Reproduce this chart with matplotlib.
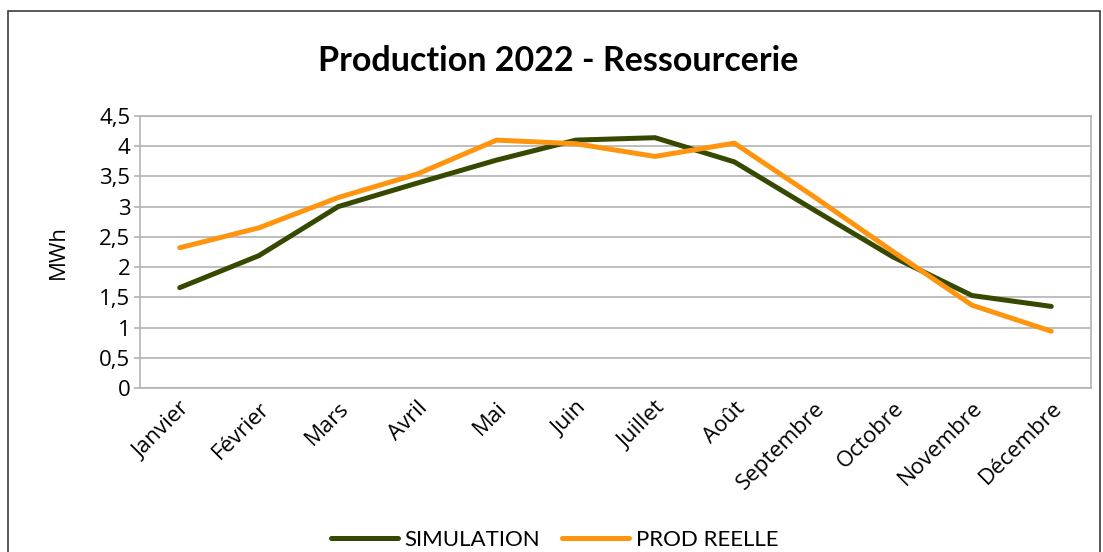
import matplotlib
matplotlib.use('Agg')
import matplotlib.pyplot as plt
from matplotlib.patches import Rectangle
from matplotlib.ticker import FuncFormatter

# monthly production, MWh
mois = ['Janvier', 'Février', 'Mars', 'Avril', 'Mai', 'Juin', 'Juillet',
        'Août', 'Septembre', 'Octobre', 'Novembre', 'Décembre']
simulation = [1.66, 2.19, 3.0, 3.39, 3.77, 4.1, 4.14, 3.74, 2.95, 2.17, 1.53, 1.35]
prod_reelle = [2.32, 2.65, 3.15, 3.54, 4.1, 4.04, 3.83, 4.05, 3.17, 2.26, 1.37, 0.94]

fig = plt.figure(figsize=(11.03, 5.52), dpi=100)
ax = fig.add_axes([0.127, 0.297, 0.862, 0.493])

x = list(range(len(mois)))
ax.plot(x, simulation, color='#354a00', lw=3.6, label='SIMULATION',
        solid_capstyle='round', solid_joinstyle='round')
ax.plot(x, prod_reelle, color='#ff950e', lw=3.6, label='PROD REELLE',
        solid_capstyle='round', solid_joinstyle='round')

ax.set_xlim(-0.5, len(mois) - 0.5)
ax.set_ylim(0, 4.5)
ax.set_yticks([i * 0.5 for i in range(10)])
ax.yaxis.set_major_formatter(FuncFormatter(lambda v, p: ('%g' % v).replace('.', ',')))
ax.set_xticks(x)
ax.set_xticklabels(mois, rotation=45, ha='right', rotation_mode='anchor',
                   family='Open Sans', fontsize=16)
for t in ax.get_yticklabels():
    t.set_family('Open Sans')
    t.set_fontsize(16)
ax.tick_params(axis='y', length=4, width=1.2, color='#b3b3b3', pad=3)
ax.tick_params(axis='x', length=0, pad=7)
ax.grid(axis='y', color='#b3b3b3', lw=1.2)
ax.set_axisbelow(True)
for s in ax.spines.values():
    s.set_color('#b3b3b3')
    s.set_linewidth(1.2)

ax.set_ylabel('MWh', family='Open Sans', fontsize=16, labelpad=22)

fig.text(0.506, 0.89, 'Production 2022 - Ressourcerie', ha='center', va='center',
         family='Lato', fontweight='bold', fontsize=24.5)

fig.legend(loc='center', bbox_to_anchor=(0.503, 0.022), ncol=2, frameon=False,
           prop={'family': 'Lato', 'size': 16}, handlelength=3.0,
           handletextpad=0.3, columnspacing=1.0)

# outer chart border
fig.patches.append(Rectangle((8 / 1103, -0.1), 1092 / 1103, 1.1 - 11 / 552,
                             transform=fig.transFigure, fill=False,
                             edgecolor='#3c3c3c', lw=1.2))

fig.savefig('out.png', dpi=100)
